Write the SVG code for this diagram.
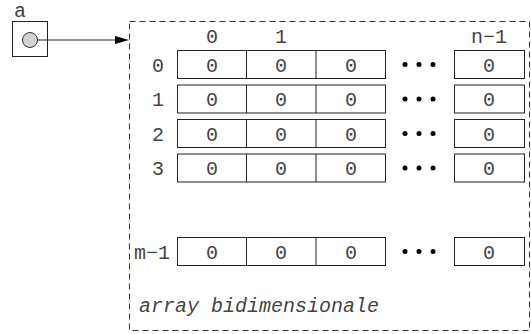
<svg xmlns="http://www.w3.org/2000/svg" width="531" height="334" viewBox="0 0 531 334">
<style>
text{font-family:"Liberation Mono","Courier New",monospace;font-size:20px;fill:#444;text-anchor:middle}
.cell{fill:#fff;stroke:#222;stroke-width:1}
.dot{fill:#000}
.dash{fill:none;stroke:#333;stroke-width:1;stroke-dasharray:6 4}
.ln{stroke:#222;stroke-width:1;fill:none}
</style>
<rect width="531" height="334" fill="#fff"/>
<g id="var-a">
<text x="20" y="16.5">a</text>
<rect x="12.5" y="21.5" width="35" height="35" class="ln"/>
<circle cx="30" cy="40" r="7.5" fill="#d3d3d3" stroke="#333"/>
</g>
<g id="connectors">
<line x1="37.5" y1="40" x2="118" y2="40" class="ln"/>
<polygon points="115,36 129,40 115,44" fill="#000"/>
</g>
<g id="array">
<rect x="129.5" y="21.5" width="400" height="309" class="dash"/>
<text x="212" y="43">0</text>
<text x="281" y="43">1</text>
<text x="489" y="43">n−1</text>
<g id="row0">
<text x="158" y="71.5">0</text>
<rect x="177.5" y="50.5" width="208" height="28" class="cell"/>
<line x1="246.5" y1="50.5" x2="246.5" y2="78.5" class="ln"/>
<line x1="316" y1="50.5" x2="316" y2="78.5" class="ln"/>
<text x="212" y="71.5">0</text><text x="281" y="71.5">0</text><text x="351" y="71.5">0</text>
<circle cx="405" cy="64.5" r="2.5" class="dot"/><circle cx="419" cy="64.5" r="2.5" class="dot"/><circle cx="433" cy="64.5" r="2.5" class="dot"/>
<rect x="454.5" y="50.5" width="70" height="28" class="cell"/>
<text x="489" y="71.5">0</text>
</g>
<g id="row1">
<text x="158" y="106">1</text>
<rect x="177.5" y="85" width="208" height="28" class="cell"/>
<line x1="246.5" y1="85" x2="246.5" y2="113" class="ln"/>
<line x1="316" y1="85" x2="316" y2="113" class="ln"/>
<text x="212" y="106">0</text><text x="281" y="106">0</text><text x="351" y="106">0</text>
<circle cx="405" cy="99" r="2.5" class="dot"/><circle cx="419" cy="99" r="2.5" class="dot"/><circle cx="433" cy="99" r="2.5" class="dot"/>
<rect x="454.5" y="85" width="70" height="28" class="cell"/>
<text x="489" y="106">0</text>
</g>
<g id="row2">
<text x="158" y="140.5">2</text>
<rect x="177.5" y="119.5" width="208" height="28" class="cell"/>
<line x1="246.5" y1="119.5" x2="246.5" y2="147.5" class="ln"/>
<line x1="316" y1="119.5" x2="316" y2="147.5" class="ln"/>
<text x="212" y="140.5">0</text><text x="281" y="140.5">0</text><text x="351" y="140.5">0</text>
<circle cx="405" cy="133.5" r="2.5" class="dot"/><circle cx="419" cy="133.5" r="2.5" class="dot"/><circle cx="433" cy="133.5" r="2.5" class="dot"/>
<rect x="454.5" y="119.5" width="70" height="28" class="cell"/>
<text x="489" y="140.5">0</text>
</g>
<g id="row3">
<text x="158" y="175">3</text>
<rect x="177.5" y="154" width="208" height="28" class="cell"/>
<line x1="246.5" y1="154" x2="246.5" y2="182" class="ln"/>
<line x1="316" y1="154" x2="316" y2="182" class="ln"/>
<text x="212" y="175">0</text><text x="281" y="175">0</text><text x="351" y="175">0</text>
<circle cx="405" cy="168" r="2.5" class="dot"/><circle cx="419" cy="168" r="2.5" class="dot"/><circle cx="433" cy="168" r="2.5" class="dot"/>
<rect x="454.5" y="154" width="70" height="28" class="cell"/>
<text x="489" y="175">0</text>
</g>
<g id="rowm1">
<text x="152" y="258.5">m−1</text>
<rect x="177.5" y="237.5" width="208" height="28" class="cell"/>
<line x1="246.5" y1="237.5" x2="246.5" y2="265.5" class="ln"/>
<line x1="316" y1="237.5" x2="316" y2="265.5" class="ln"/>
<text x="212" y="258.5">0</text><text x="281" y="258.5">0</text><text x="351" y="258.5">0</text>
<circle cx="405" cy="251.5" r="2.5" class="dot"/><circle cx="419" cy="251.5" r="2.5" class="dot"/><circle cx="433" cy="251.5" r="2.5" class="dot"/>
<rect x="454.5" y="237.5" width="70" height="28" class="cell"/>
<text x="489" y="258.5">0</text>
</g>
<text x="139" y="312" style="text-anchor:start;font-style:italic">array bidimensionale</text>
</g>
</svg>
